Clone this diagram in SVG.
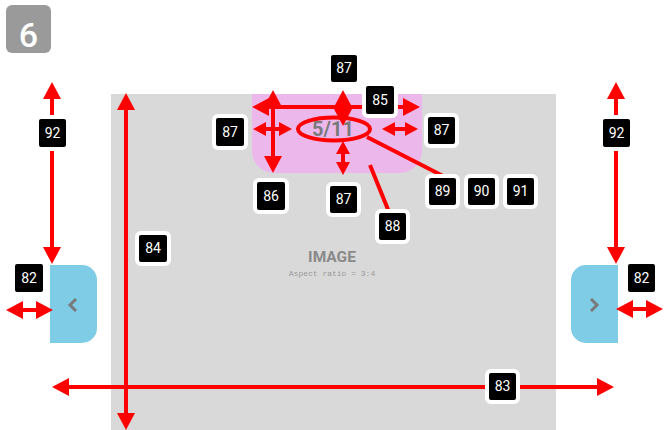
<svg xmlns="http://www.w3.org/2000/svg" width="672" height="430" viewBox="0 0 672 430">
<defs>
<marker id="ah" markerUnits="userSpaceOnUse" markerWidth="18" markerHeight="18" refX="9" refY="9" orient="auto-start-reverse" viewBox="0 0 18 18"><path d="M0,0 L17,9 L0,18 Z" fill="#ff0000"/></marker>
<marker id="as" markerUnits="userSpaceOnUse" markerWidth="14" markerHeight="14" refX="6" refY="7" orient="auto-start-reverse" viewBox="0 0 14 14"><path d="M0,0 L13,7 L0,14 Z" fill="#ff0000"/></marker>
</defs>
<style>
.ln{stroke:#ff0000;stroke-width:4;fill:none}
.big{marker-start:url(#ah);marker-end:url(#ah)}
.sm{marker-start:url(#as);marker-end:url(#as)}
.bd rect{fill:#000;stroke:#fff;stroke-width:4}
.bd text{fill:#fff;font-family:Roboto,"Liberation Sans",sans-serif;font-size:14px;text-anchor:middle}
.btn{fill:#7fcce6}
.chev{fill:none;stroke:#7a7a7a;stroke-width:3}
</style>
<rect width="672" height="430" fill="#fff"/>
<g id="step">
<rect x="6" y="5" width="45" height="48" rx="6" fill="#9a9a9a"/>
<text x="28.5" y="47" fill="#fff" font-family="Roboto,'Liberation Sans',sans-serif" font-weight="500" font-size="34" text-anchor="middle">6</text>
</g>
<g id="image">
<rect x="111" y="94" width="445" height="336" fill="#d9d9d9"/>
<text x="332" y="262" fill="#8a8a8a" font-family="Roboto,'Liberation Sans',sans-serif" font-weight="bold" font-size="15.5" text-anchor="middle">IMAGE</text>
<text x="332" y="276" fill="#9a9a9a" font-family="'Liberation Mono','DejaVu Sans Mono',monospace" font-size="8" text-anchor="middle">Aspect ratio = 3:4</text>
</g>
<g id="counter">
<path d="M252,94 H422 V151 A22,22 0 0 1 400,173 H274 A22,22 0 0 1 252,151 Z" fill="#ecb8ec"/>
<text x="333" y="136" fill="#7a7a7a" font-family="Roboto,'Liberation Sans',sans-serif" font-weight="bold" font-size="20" text-anchor="middle">5/11</text>
</g>
<g id="prev">
<path class="btn" d="M50,265 H82 A15,15 0 0 1 97,280 V328 A15,15 0 0 1 82,343 H50 Z"/>
<polyline class="chev" points="76,299 70,305 76,311"/>
</g>
<g id="next">
<path class="btn" d="M618,265 H586 A15,15 0 0 0 571,280 V328 A15,15 0 0 0 586,343 H618 Z"/>
<polyline class="chev" points="591,299 597,305 591,311"/>
</g>
<g id="connectors">
<line class="ln big" x1="52" y1="90" x2="52" y2="256"/>
<line class="ln big" x1="616" y1="90" x2="616" y2="256"/>
<line class="ln big" x1="126" y1="101" x2="126" y2="422"/>
<line class="ln big" x1="60" y1="387" x2="606" y2="387"/>
<line class="ln big" x1="14" y1="310" x2="45" y2="310"/>
<line class="ln big" x1="624" y1="309" x2="655" y2="309"/>
<line class="ln big" x1="260" y1="107" x2="412" y2="107"/>
<line class="ln big" x1="273" y1="98" x2="273" y2="165"/>
<line class="ln big" x1="343" y1="98" x2="343" y2="118"/>
<line class="ln sm" x1="260" y1="129" x2="285" y2="129"/>
<line class="ln sm" x1="389" y1="129" x2="411" y2="129"/>
<line class="ln sm" x1="343" y1="148" x2="343" y2="168"/>
<ellipse class="ln" cx="334" cy="129" rx="36" ry="11.5" stroke-width="3"/>
<line class="ln" x1="367" y1="137" x2="445" y2="177" stroke-width="3"/>
<line class="ln" x1="370" y1="165" x2="389" y2="212" stroke-width="3"/>
</g>
<g id="b92l" class="bd"><rect x="37" y="117" width="31" height="32" rx="4"/><text x="52.5" y="138">92</text></g>
<g id="b92r" class="bd"><rect x="601" y="117" width="31" height="32" rx="4"/><text x="616.5" y="138">92</text></g>
<g id="b87t" class="bd"><rect x="329" y="53" width="30" height="31" rx="4"/><text x="344" y="73">87</text></g>
<g id="b85" class="bd"><rect x="364" y="84" width="32" height="32" rx="4"/><text x="380" y="105">85</text></g>
<g id="b87l" class="bd"><rect x="214" y="116" width="32" height="32" rx="4"/><text x="230" y="137">87</text></g>
<g id="b87r" class="bd"><rect x="426" y="115" width="31" height="31" rx="4"/><text x="441.5" y="135">87</text></g>
<g id="b86" class="bd"><rect x="255" y="180" width="32" height="32" rx="4"/><text x="271" y="201">86</text></g>
<g id="b87b" class="bd"><rect x="328" y="184" width="31" height="31" rx="4"/><text x="343.5" y="204">87</text></g>
<g id="b89" class="bd"><rect x="427" y="176" width="31" height="31" rx="4"/><text x="442.5" y="196">89</text></g>
<g id="b90" class="bd"><rect x="466" y="176" width="31" height="31" rx="4"/><text x="481.5" y="196">90</text></g>
<g id="b91" class="bd"><rect x="505" y="176" width="31" height="31" rx="4"/><text x="520.5" y="196">91</text></g>
<g id="b88" class="bd"><rect x="377" y="211" width="31" height="31" rx="4"/><text x="392.5" y="231">88</text></g>
<g id="b84" class="bd"><rect x="137" y="233" width="32" height="31" rx="4"/><text x="153" y="253">84</text></g>
<g id="b82l" class="bd"><rect x="13" y="262" width="32" height="32" rx="4"/><text x="29" y="283">82</text></g>
<g id="b82r" class="bd"><rect x="626" y="262" width="31" height="32" rx="4"/><text x="641.5" y="283">82</text></g>
<g id="b83" class="bd"><rect x="487" y="371" width="31" height="31" rx="4"/><text x="502.5" y="391">83</text></g>
</svg>
